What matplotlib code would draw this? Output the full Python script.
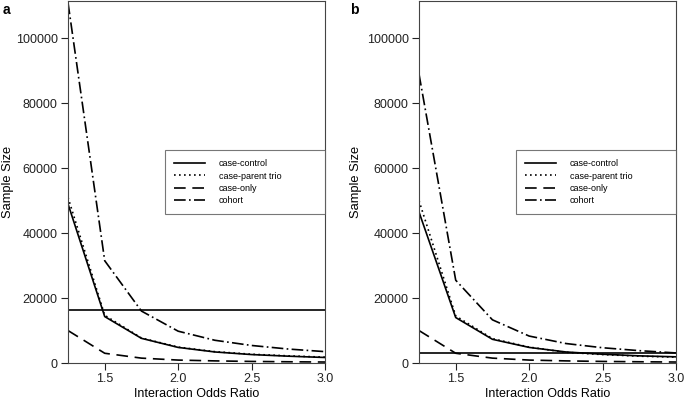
import numpy as np
import matplotlib.pyplot as plt

plt.rcParams['font.family'] = ['Liberation Sans', 'DejaVu Sans']

odds_ratio = [1.25, 1.5, 1.75, 2.0, 2.25, 2.5, 2.75, 3.0]

# panel a
a_case_control = [49000, 14300, 7600, 4800, 3400, 2600, 2100, 1700]
a_trio = [51000, 14700, 7700, 4900, 3500, 2700, 2200, 1800]
a_case_only = [10000, 3000, 1500, 900, 650, 480, 380, 300]
a_cohort = [111000, 31500, 16000, 9800, 7000, 5400, 4300, 3500]
a_hline = 16300

# panel b
b_case_control = [46500, 14000, 7300, 4800, 3400, 2700, 2200, 1900]
b_trio = [50000, 14500, 7500, 4900, 3300, 2600, 2100, 1800]
b_case_only = [10000, 3000, 1500, 900, 650, 480, 380, 300]
b_cohort = [89000, 25500, 13300, 8300, 6000, 4700, 3800, 3100]
b_hline = 3200

labels = ['case-control', 'case-parent trio', 'case-only', 'cohort']
styles = ['-', (0, (1, 2)), (0, (7, 4)), (0, (7, 2, 1, 2))]

fig = plt.figure(figsize=(6.85, 4.0), dpi=100)
ax_a = fig.add_axes([68/685, 37/400, 257/685, 362/400])
ax_b = fig.add_axes([419/685, 37/400, 257/685, 362/400])


def draw_panel(ax, series, hline, tag, tag_x, ylab_x):
    for vals, ls, lab in zip(series, styles, labels):
        ax.plot(odds_ratio, vals, color='black', linestyle=ls, lw=1.2, label=lab)
    ax.axhline(hline, color='black', lw=1.2)
    ax.set_xlim(1.25, 3.0)
    ax.set_ylim(0, 111500)
    ax.set_xticks([1.5, 2.0, 2.5, 3.0])
    ax.set_yticks([0, 20000, 40000, 60000, 80000, 100000])
    ax.tick_params(direction='out', length=5, pad=2.5, labelsize=9, colors='#222222')
    ax.set_xlabel('Interaction Odds Ratio', fontsize=9, labelpad=2)
    ax.set_ylabel('Sample Size', fontsize=9.3)
    ax.yaxis.set_label_coords(ylab_x, 0.5)
    for s in ax.spines.values():
        s.set_linewidth(0.8)
        s.set_color('#444444')
    # wide legend box reaching from x=0.377 to the right spine
    leg = ax.legend(loc='upper left', bbox_to_anchor=(0.377, 0.588, 0.623, 0.0),
                    mode='expand', fontsize=6.5, frameon=True, fancybox=False,
                    edgecolor='#555555', handlelength=3.4, borderpad=1.0,
                    labelspacing=0.38, handletextpad=1.6, borderaxespad=0)
    leg.get_frame().set_linewidth(0.8)
    fig.text(tag_x, 0.992, tag, fontsize=10, fontweight='bold', va='top')


draw_panel(ax_a, [a_case_control, a_trio, a_case_only, a_cohort], a_hline, 'a', 3/685, -0.212)
draw_panel(ax_b, [b_case_control, b_trio, b_case_only, b_cohort], b_hline, 'b', 350/685, -0.222)

fig.savefig('out.png', dpi=100)
